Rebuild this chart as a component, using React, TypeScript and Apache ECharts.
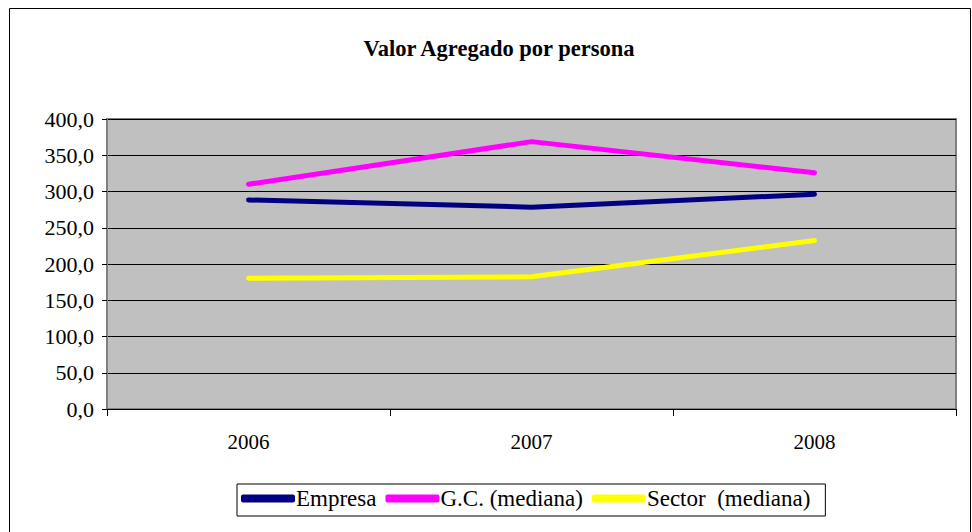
import React, { useEffect, useRef } from "react";
import * as echarts from "echarts";

const years = ["2006", "2007", "2008"];
const empresa = [288.3, 278.4, 296.2];
const gcMediana = [310.0, 368.8, 325.8];
const sectorMediana = [180.3, 182.4, 232.4];
const yTicks = [0, 50, 100, 150, 200, 250, 300, 350, 400];

const FONT = "Liberation Serif";

export default function App() {
  const ref = useRef<HTMLDivElement>(null);
  useEffect(() => {
    document.body.style.margin = "0";
    const chart = echarts.init(ref.current!, null, { renderer: "svg" });
    const lineSeries = (name: string, data: number[], color: string) => ({
      name,
      type: "line",
      data,
      symbol: "none",
      color,
      lineStyle: { color, width: 5, cap: "round", join: "round" },
    });
    chart.setOption({
      animation: false,
      backgroundColor: "#ffffff",
      textStyle: { fontFamily: FONT },
      title: {
        text: "Valor Agregado por persona",
        left: 494,
        textAlign: "center",
        top: 32,
        textStyle: { fontFamily: FONT, fontSize: 22.5, fontWeight: "bold", color: "#000" },
      },
      graphic: [
        {
          type: "rect",
          shape: { x: 9.5, y: 8.5, width: 961, height: 540 },
          style: { fill: "none", stroke: "#000", lineWidth: 1 },
          silent: true,
          z: -1,
        },
      ],
      grid: {
        left: 107,
        top: 119,
        right: 16,
        bottom: 123,
        show: true,
        backgroundColor: "#C0C0C0",
        borderColor: "#808080",
        borderWidth: 2,
      },
      legend: {
        left: 237,
        top: 484,
        data: ["Empresa", "G.C. (mediana)", "Sector  (mediana)"],
        icon: "roundRect",
        itemWidth: 54,
        itemHeight: 8,
        itemGap: 9,
        padding: [3, 15, 6, 4],
        borderColor: "#000",
        borderWidth: 1,
        backgroundColor: "#fff",
        textStyle: { fontFamily: FONT, fontSize: 23, color: "#000", padding: [5, 0, 0, -4] },
      },
      xAxis: {
        type: "category",
        data: years,
        boundaryGap: true,
        axisLine: { lineStyle: { color: "#000", width: 1 } },
        axisTick: { show: true, length: 7, inside: false, lineStyle: { color: "#000" } },
        axisLabel: { fontFamily: FONT, fontSize: 21, color: "#000", margin: 22 },
        splitLine: { show: false },
      },
      yAxis: {
        type: "value",
        min: 0,
        max: 400,
        interval: 50,
        axisLine: { show: true, lineStyle: { color: "#808080", width: 2 } },
        axisTick: { show: true, length: 5, lineStyle: { color: "#000" } },
        axisLabel: {
          fontFamily: FONT,
          fontSize: 22,
          color: "#000",
          margin: 13,
          formatter: (v: number) => (yTicks.includes(v) ? v.toFixed(1).replace(".", ",") : ""),
        },
        splitLine: { show: true, lineStyle: { color: "#000", width: 1 } },
      },
      series: [
        lineSeries("Empresa", empresa, "#000080"),
        lineSeries("G.C. (mediana)", gcMediana, "#FF00FF"),
        lineSeries("Sector  (mediana)", sectorMediana, "#FFFF00"),
      ],
    });
    return () => chart.dispose();
  }, []);
  return <div ref={ref} style={{ width: 972, height: 532 }} />;
}
